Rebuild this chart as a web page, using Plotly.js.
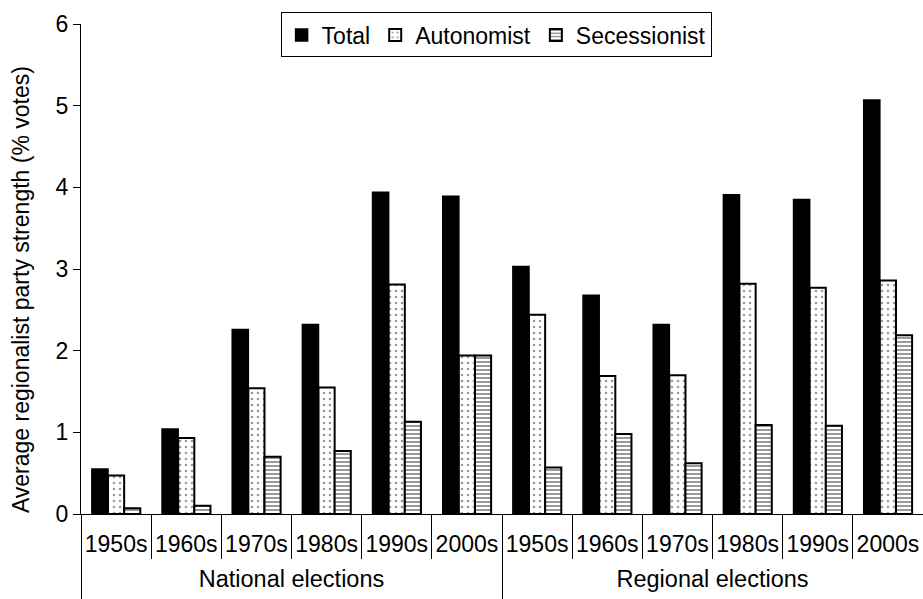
<!DOCTYPE html>
<html>
<head>
<meta charset="utf-8">
<script src="https://cdn.plot.ly/plotly-3.0.1.min.js"></script>
<style>html,body{margin:0;padding:0;background:#fff;}#chart{width:923px;height:599px;}</style>
</head>
<body>
<div id="chart"></div>
<script>
var groups = ['National elections', 'Regional elections'];
var decades = ['1950s', '1960s', '1970s', '1980s', '1990s', '2000s'];
var nationalTotal = [0.55, 1.04, 2.26, 2.32, 3.94, 3.89];
var nationalAutonomist = [0.47, 0.93, 1.54, 1.55, 2.81, 1.94];
var nationalSecessionist = [0.07, 0.10, 0.70, 0.77, 1.13, 1.94];
var regionalTotal = [3.03, 2.68, 2.32, 3.91, 3.85, 5.07];
var regionalAutonomist = [2.44, 1.69, 1.70, 2.82, 2.77, 2.86];
var regionalSecessionist = [0.57, 0.98, 0.62, 1.09, 1.08, 2.19];
var seriesNames = ['Total', 'Autonomist', 'Secessionist'];
var yTitle = 'Average regionalist party strength (% votes)';

// unique category keys (group + decade), shown with the decade label only
var keys = [], keyLabels = [];
groups.forEach(function (g) { decades.forEach(function (d) { keys.push(g + ' ' + d); keyLabels.push(d); }); });

var FONT = 'Liberation Sans, Arial, Helvetica, sans-serif';
var traces = [
  {
    type: 'bar', name: seriesNames[0], x: keys,
    y: nationalTotal.concat(regionalTotal),
    marker: { color: '#000000', line: { color: '#000000', width: 1.5 } }
  },
  {
    type: 'bar', name: seriesNames[1], x: keys,
    y: nationalAutonomist.concat(regionalAutonomist),
    marker: { color: '#ffffff', line: { color: '#000000', width: 2 },
      pattern: { shape: '.', fgcolor: '#9a9a9a', bgcolor: '#ffffff', size: 6, solidity: 0.15 } }
  },
  {
    type: 'bar', name: seriesNames[2], x: keys,
    y: nationalSecessionist.concat(regionalSecessionist),
    marker: { color: '#ffffff', line: { color: '#000000', width: 2 },
      pattern: { shape: '-', fgcolor: '#808080', bgcolor: '#ffffff', size: 4, solidity: 0.4 } }
  },
  {
    // carrier for the group-level axis (no visible marks)
    type: 'scatter', mode: 'markers', x: groups, y: groups.map(function () { return null; }),
    xaxis: 'x2', yaxis: 'y', showlegend: false, hoverinfo: 'skip', marker: { opacity: 0 }
  }
];

var layout = {
  width: 923, height: 599,
  margin: { l: 81, r: 0, t: 24, b: 85 },
  paper_bgcolor: '#ffffff', plot_bgcolor: '#ffffff',
  font: { family: FONT, size: 23, color: '#000000' },
  barmode: 'group', bargap: 0.31, bargroupgap: 0,
  showlegend: true,
  legend: {
    orientation: 'h', x: 0.493, xanchor: 'center', y: 1.0235, yanchor: 'top',
    bordercolor: '#000000', borderwidth: 1, bgcolor: '#ffffff',
    font: { family: FONT, size: 23, color: '#000000' }
  },
  xaxis: {
    type: 'category', categoryorder: 'array', categoryarray: keys,
    tickmode: 'array', tickvals: keys, ticktext: keyLabels,
    tickson: 'boundaries',
    showline: true, linecolor: '#000000', linewidth: 1,
    ticks: 'outside', ticklen: 44, tickcolor: '#000000', tickwidth: 1,
    ticklabelstandoff: 9, tickangle: 0,
    tickfont: { family: FONT, size: 23, color: '#000000' },
    showgrid: false, zeroline: false
  },
  xaxis2: {
    type: 'category', overlaying: 'x', anchor: 'y', side: 'bottom',
    categoryorder: 'array', categoryarray: groups, range: [-0.5, groups.length - 0.5],
    tickson: 'boundaries',
    showline: false,
    ticks: 'outside', ticklen: 85, tickcolor: '#000000', tickwidth: 1,
    ticklabelstandoff: 48, tickangle: 0,
    tickfont: { family: FONT, size: 23.5, color: '#000000' },
    showgrid: false, zeroline: false
  },
  yaxis: {
    range: [0, 6], dtick: 1, tick0: 0,
    showline: true, linecolor: '#000000', linewidth: 1,
    ticks: 'outside', ticklen: 7, tickcolor: '#000000', tickwidth: 1,
    showgrid: false, zeroline: false,
    tickfont: { family: FONT, size: 23, color: '#000000' }
  },
  annotations: [{
    text: yTitle, textangle: -90, showarrow: false,
    xref: 'paper', yref: 'paper', x: -0.0712, y: 0.457, xanchor: 'center', yanchor: 'middle',
    font: { family: FONT, size: 23, color: '#000000' }
  }]
};

Plotly.newPlot('chart', traces, layout, { displayModeBar: false, staticPlot: true });
</script>
</body>
</html>
